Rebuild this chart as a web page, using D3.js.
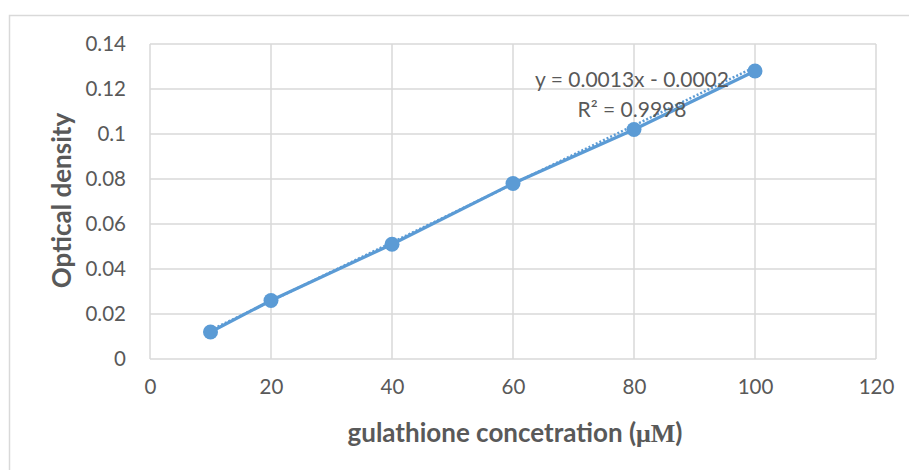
<!DOCTYPE html>
<html>
<head>
<meta charset="utf-8">
<script src="https://cdn.jsdelivr.net/npm/d3@7"></script>
<style>
  html, body { margin: 0; padding: 0; background: #fff; }
  svg { display: block; }
  text { font-family: Lato, "Open Sans", sans-serif; fill: #595959; }
</style>
</head>
<body>
<svg id="chart" width="909" height="470"></svg>
<script>
// Glutathione standard curve
const concentrations = [10, 20, 40, 60, 80, 100];
const opticalDensity = [0.012, 0.026, 0.051, 0.078, 0.102, 0.128];
const xTicks = [0, 20, 40, 60, 80, 100, 120];
const yTicks = [0, 0.02, 0.04, 0.06, 0.08, 0.1, 0.12, 0.14];
const slope = 0.0013;
const intercept = -0.0002;
const equationText = "y = 0.0013x - 0.0002";
const r2Text = "R² = 0.9998";

const svg = d3.select("#chart");
const margin = { left: 150, right: 33, top: 44, bottom: 111 };
const W = 909, H = 470;

const x = d3.scaleLinear().domain([0, 120]).range([margin.left, W - margin.right]);
const y = d3.scaleLinear().domain([0, 0.14]).range([H - margin.bottom, margin.top]);

// chart frame
svg.append("rect")
  .attr("x", 9.5).attr("y", 15.5)
  .attr("width", 920).attr("height", 480)
  .attr("fill", "none").attr("stroke", "#d9d9d9").attr("stroke-width", 1.5);

// gridlines
const grid = svg.append("g");
grid.selectAll("line.h").data(yTicks).enter().append("line")
  .attr("x1", x(0)).attr("x2", x(120))
  .attr("y1", d => y(d)).attr("y2", d => y(d))
  .attr("stroke", "#d9d9d9").attr("stroke-width", 1.5);
grid.selectAll("line.v").data(xTicks).enter().append("line")
  .attr("y1", y(0)).attr("y2", y(0.14))
  .attr("x1", d => x(d)).attr("x2", d => x(d))
  .attr("stroke", "#d9d9d9").attr("stroke-width", 1.5);

// axes (labels only)
const yAxis = d3.axisLeft(y).tickValues(yTicks).tickSize(0).tickPadding(24)
  .tickFormat(d => d === 0 ? "0" : String(+d.toFixed(2)));
const gy = svg.append("g").attr("transform", `translate(${x(0)},0)`).call(yAxis);
gy.select(".domain").remove();
gy.selectAll("text").attr("font-size", 20.5).style("fill", "#595959")
  .style("font-family", "Lato, 'Open Sans', sans-serif");

const xAxis = d3.axisBottom(x).tickValues(xTicks).tickSize(0).tickPadding(20);
const gx = svg.append("g").attr("transform", `translate(0,${y(0)})`).call(xAxis);
gx.select(".domain").remove();
gx.selectAll("text").attr("font-size", 20.5).style("fill", "#595959")
  .style("font-family", "Lato, 'Open Sans', sans-serif");

// data line
const line = d3.line().x(d => x(d[0])).y(d => y(d[1]));
const pts = concentrations.map((c, i) => [c, opticalDensity[i]]);
svg.append("path").datum(pts)
  .attr("d", line).attr("fill", "none")
  .attr("stroke", "#5b9bd5").attr("stroke-width", 3.2).attr("stroke-linejoin", "round");

// linear trendline (dotted)
const xmin = d3.min(concentrations), xmax = d3.max(concentrations);
svg.append("path").datum([[xmin, slope * xmin + intercept], [xmax, slope * xmax + intercept]])
  .attr("d", line).attr("fill", "none")
  .attr("stroke", "#5b9bd5").attr("stroke-width", 2.5).attr("stroke-dasharray", "2,2");

// markers
svg.selectAll("circle.pt").data(pts).enter().append("circle")
  .attr("cx", d => x(d[0])).attr("cy", d => y(d[1])).attr("r", 7.5)
  .attr("fill", "#5b9bd5");

// trendline equation
svg.append("text").attr("x", 632).attr("y", 87).attr("text-anchor", "middle")
  .attr("font-size", 21).text(equationText);
svg.append("text").attr("x", 632).attr("y", 117).attr("text-anchor", "middle")
  .attr("font-size", 21).text(r2Text);

// axis titles
svg.append("text")
  .attr("transform", `translate(71,${(y(0) + y(0.14)) / 2 - 1}) rotate(-90)`)
  .attr("text-anchor", "middle").attr("font-size", 26).attr("font-weight", "bold")
  .text("Optical density");

const xt = svg.append("text").attr("x", 515).attr("y", 442)
  .attr("text-anchor", "middle").attr("font-size", 26).attr("font-weight", "bold");
xt.append("tspan").text("gulathione concetration (");
xt.append("tspan").style("font-family", "'Liberation Serif', 'DejaVu Serif', serif").text("μM");
xt.append("tspan").text(")");
</script>
</body>
</html>
